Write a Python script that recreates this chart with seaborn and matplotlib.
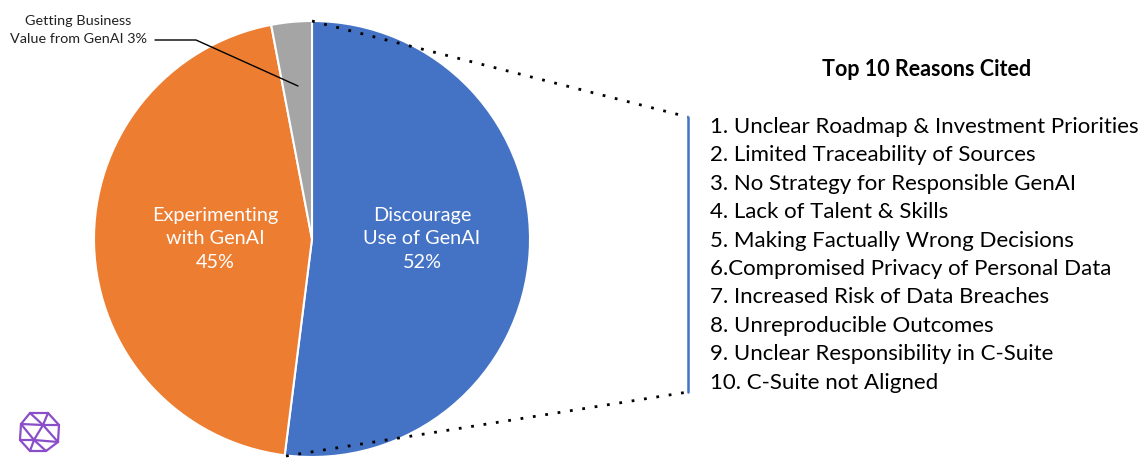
import matplotlib
matplotlib.use("Agg")
import matplotlib.pyplot as plt
import seaborn as sns
from matplotlib.lines import Line2D

sns.set_theme(style="white")
plt.rcParams['font.family'] = ['Lato', 'DejaVu Sans']

# Data
categories = ["Discourage\nUse of GenAI", "Experimenting\nwith GenAI", "Getting Business\nValue from GenAI"]
shares = [52, 45, 3]
colors = ["#4472C4", "#ED7D31", "#A5A5A5"]
title = "Top 10 Reasons Cited"
reasons = [
    "1. Unclear Roadmap & Investment Priorities",
    "2. Limited Traceability of Sources",
    "3. No Strategy for Responsible GenAI",
    "4. Lack of Talent & Skills",
    "5. Making Factually Wrong Decisions",
    "6.Compromised Privacy of Personal Data",
    "7. Increased Risk of Data Breaches",
    "8. Unreproducible Outcomes",
    "9. Unclear Responsibility in C-Suite",
    "10. C-Suite not Aligned",
]

W, H = 1140, 458
fig = plt.figure(figsize=(W / 100, H / 100), dpi=100)
fig.patch.set_facecolor("white")

def fx(px):
    return px / W

def fy(py):
    return 1 - py / H

cx, cy, r = 312, 239, 218
ax = fig.add_axes([fx(cx - r), fy(cy + r), 2 * r / W, 2 * r / H])
wedges, _ = ax.pie(shares, colors=colors, startangle=90, counterclock=False,
                   wedgeprops=dict(edgecolor="white", linewidth=1.5), radius=1.0)
ax.set_xlim(-1, 1)
ax.set_ylim(-1, 1)
ax.set_aspect("equal")
ax.axis("off")

# Inside labels
ax.text(0.505, 0.0, f"{categories[0]}\n{shares[0]}%", ha="center", va="center",
        color="white", fontsize=14.3, linespacing=1.45)
ax.text(-0.445, 0.0, f"{categories[1]}\n{shares[1]}%", ha="center", va="center",
        color="white", fontsize=14.3, linespacing=1.45)

# Outside label for small slice
fig.text(fx(78), fy(30), f"{categories[2]} {shares[2]}%", ha="center", va="center",
         fontsize=10.4, color="#222222", linespacing=1.55)
fig.add_artist(Line2D([fx(155), fx(196), fx(298)], [fy(40), fy(40), fy(86)],
                      color="black", lw=1.0))

# Dotted connectors
fig.add_artist(Line2D([fx(312), fx(688)], [fy(21), fy(117)], color="black",
                      lw=2.0, linestyle=(0, (1, 3.5))))
fig.add_artist(Line2D([fx(286), fx(688)], [fy(456), fy(392)], color="black",
                      lw=2.0, linestyle=(0, (1, 3.5))))
fig.add_artist(Line2D([fx(688), fx(688)], [fy(117), fy(392)], color="#4472C4", lw=1.8))

# Reasons box
fig.text(fx(927), fy(69), title, ha="center", va="center", fontsize=15.5,
         fontweight="bold", color="black")
y0, step = 127, 28.4
for i, t in enumerate(reasons):
    fig.text(fx(710), fy(y0 + i * step), t, ha="left", va="center", fontsize=16,
             color="black")

# Logo (decorative wireframe)
pts = {
    "a": (30, 413), "b": (48, 413), "c": (59, 425), "d": (58, 442), "e": (46, 451),
    "f": (30, 451), "g": (20, 440), "h": (21, 424), "i": (43, 425), "j": (34, 440),
}
edges = [("a", "b"), ("b", "c"), ("c", "d"), ("d", "e"), ("e", "f"), ("f", "g"), ("g", "h"),
         ("h", "a"), ("a", "i"), ("b", "i"), ("c", "i"), ("i", "j"), ("h", "j"), ("g", "j"),
         ("f", "j"), ("e", "j"), ("d", "i"), ("h", "i"), ("j", "d")]
for p, q in edges:
    fig.add_artist(Line2D([fx(pts[p][0]), fx(pts[q][0])], [fy(pts[p][1]), fy(pts[q][1])],
                          color="#8A4FC8", lw=1.6))

fig.savefig("out.png", dpi=100, facecolor="white")
